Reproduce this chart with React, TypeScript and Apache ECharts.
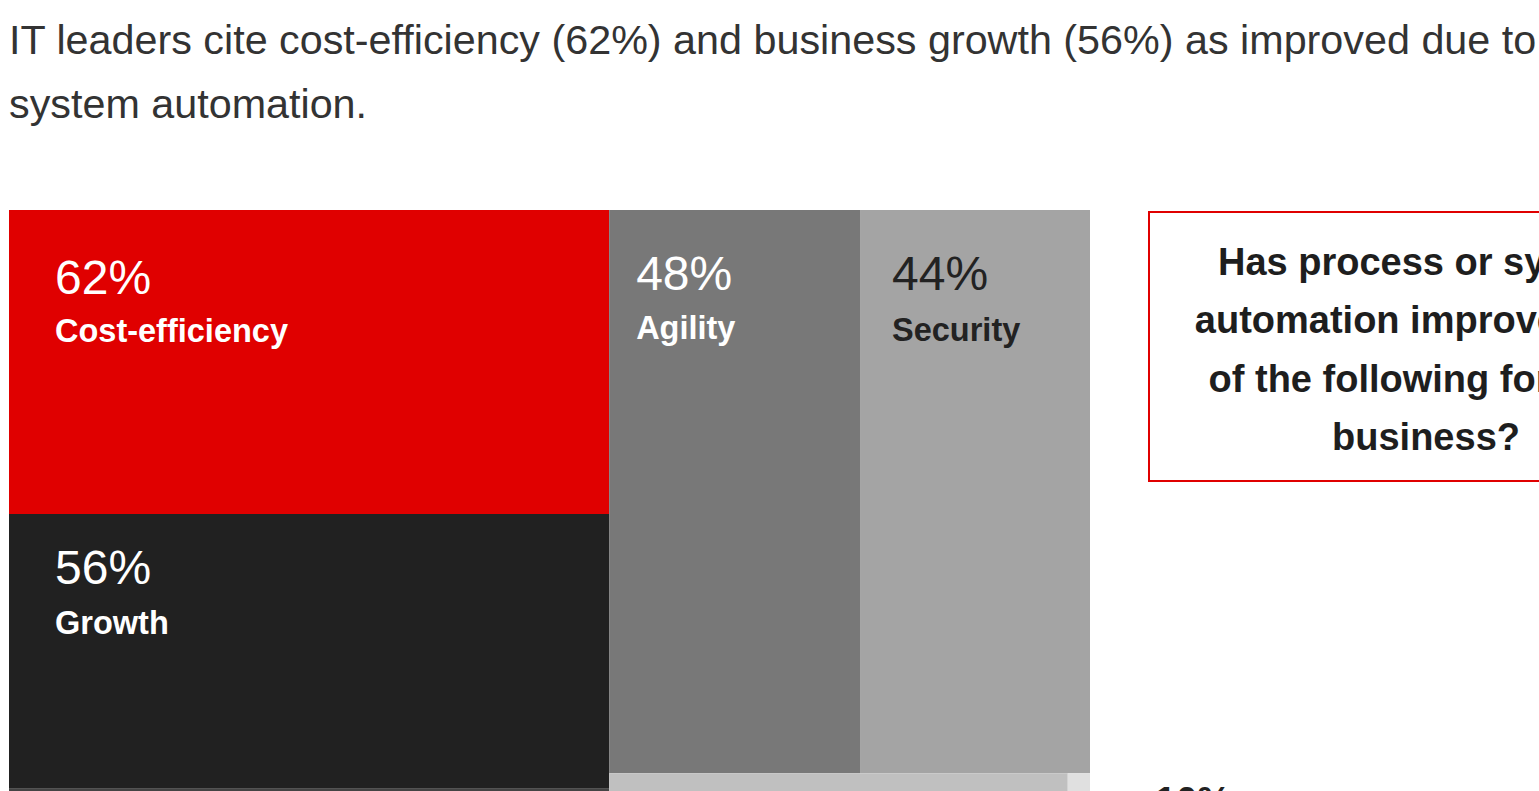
import React, { useEffect, useRef } from "react";
import * as echarts from "echarts";

// ---- data ----
const TITLE_LINES = [
  "IT leaders cite cost-efficiency (62%) and business growth (56%) as improved due to",
  "system automation.",
];
const QUESTION_LINES = [
  "Has process or system",
  "automation improved any",
  "of the following for your",
  "business?",
];
const CATEGORIES = [
  "Cost-efficiency",
  "Growth",
  "Innovation",
  "Agility",
  "Security",
  "Customer experience",
  "Other",
];
const VALUES = [62, 56, 40, 48, 44, 33, 1.6];
// treemap structure: columns -> rows -> item indices
const COLUMNS = [
  [[0], [1], [2]],
  [[3, 4], [5, 6]],
];
const NOTE_LABEL = "10%";

// ---- styles ----
const CELL_COLORS = ["#e00000", "#212121", "#444444", "#787878", "#a4a4a4", "#c0c0c0", "#e0e0e0"];
const TEXT_COLORS = ["#ffffff", "#ffffff", "#ffffff", "#ffffff", "#222222", "#222222", "#222222"];
// [left padding, number baseline, category baseline]
const LABEL_OFFSETS = [
  [46, 84, 132],
  [46, 70, 120],
  [46, 80, 130],
  [27, 80, 129],
  [32, 80, 131],
  [30, 80, 130],
  [30, 80, 130],
];
const FONT = "'Liberation Sans', Arial, Helvetica, sans-serif";
const NUM_SIZE = 48;
const CAT_SIZE = 32.5;

function buildCells() {
  const total = VALUES.reduce((a, b) => a + b, 0);
  const cells: number[][] = [];
  let x = 0;
  COLUMNS.forEach((col) => {
    const colTotal = col.flat().reduce((a, i) => a + VALUES[i], 0);
    let y = 0;
    col.forEach((row) => {
      const rowTotal = row.reduce((a, i) => a + VALUES[i], 0);
      const rowH = rowTotal / colTotal;
      let rx = x;
      row.forEach((i) => {
        const w = (VALUES[i] / rowTotal) * colTotal;
        cells.push([rx, rx + w, y, y + rowH, i]);
        rx += w;
      });
      y += rowH;
    });
    x += colTotal;
  });
  return { cells, total };
}

export default function App() {
  const ref = useRef<HTMLDivElement>(null);
  useEffect(() => {
    if (!ref.current) return;
    const chart = echarts.init(ref.current, undefined, { renderer: "svg" });
    const { cells, total } = buildCells();

    const graphics: any[] = [];
    TITLE_LINES.forEach((line, k) => {
      graphics.push({
        type: "text",
        x: 9,
        y: 40 + k * 64,
        style: {
          text: line,
          fontSize: 41.3,
          fontFamily: FONT,
          fill: "#333333",
          fontWeight: "normal",
          verticalAlign: "middle",
        },
      });
    });
    graphics.push({
      type: "rect",
      shape: { x: 1149, y: 212, width: 556, height: 269 },
      style: { fill: "none", stroke: "#e00000", lineWidth: 2 },
    });
    QUESTION_LINES.forEach((line, k) => {
      graphics.push({
        type: "text",
        x: 1426,
        y: 262 + k * 58.3,
        style: {
          text: line,
          fontSize: 38,
          fontFamily: FONT,
          fontWeight: "bold",
          fill: "#1e1e1e",
          align: "center",
          verticalAlign: "middle",
        },
      });
    });
    graphics.push({
      type: "text",
      x: 1155,
      y: 801,
      style: {
        text: NOTE_LABEL,
        fontSize: 38,
        fontFamily: FONT,
        fontWeight: "bold",
        fill: "#222222",
        verticalAlign: "middle",
      },
    });

    chart.setOption({
      animation: false,
      grid: { left: 9, top: 210, width: 1081, height: 775 },
      xAxis: { type: "value", min: 0, max: total, show: false },
      yAxis: { type: "value", min: 0, max: 1, inverse: true, show: false },
      graphic: graphics,
      series: [
        {
          type: "custom",
          data: cells,
          renderItem: (params: any, api: any) => {
            const x0 = api.value(0), x1 = api.value(1), y0 = api.value(2), y1 = api.value(3);
            const idx = api.value(4);
            const p0 = api.coord([x0, y0]);
            const p1 = api.coord([x1, y1]);
            const off = LABEL_OFFSETS[idx];
            const children: any[] = [
              {
                type: "rect",
                shape: { x: p0[0], y: p0[1], width: p1[0] - p0[0], height: p1[1] - p0[1] },
                style: { fill: CELL_COLORS[idx] },
              },
            ];
            if (p1[0] - p0[0] > 60) {
              children.push({
                type: "text",
                x: p0[0] + off[0],
                y: p0[1] + off[1] - 0.35 * NUM_SIZE,
                style: {
                  text: VALUES[idx] + "%",
                  fontSize: NUM_SIZE,
                  fontFamily: FONT,
                  fill: TEXT_COLORS[idx],
                  verticalAlign: "middle",
                },
              });
              children.push({
                type: "text",
                x: p0[0] + off[0],
                y: p0[1] + off[2] - 0.35 * CAT_SIZE,
                style: {
                  text: CATEGORIES[idx],
                  fontSize: CAT_SIZE,
                  fontFamily: FONT,
                  fontWeight: "bold",
                  fill: TEXT_COLORS[idx],
                  verticalAlign: "middle",
                },
              });
            }
            return { type: "group", children };
          },
        },
      ],
    });
    return () => chart.dispose();
  }, []);
  return (
    <div
      style={{
        position: "fixed",
        left: 0,
        top: 0,
        width: 1539,
        height: 791,
        overflow: "hidden",
        background: "#fff",
      }}
    >
      <div ref={ref} style={{ width: 1539, height: 1100 }} />
    </div>
  );
}
